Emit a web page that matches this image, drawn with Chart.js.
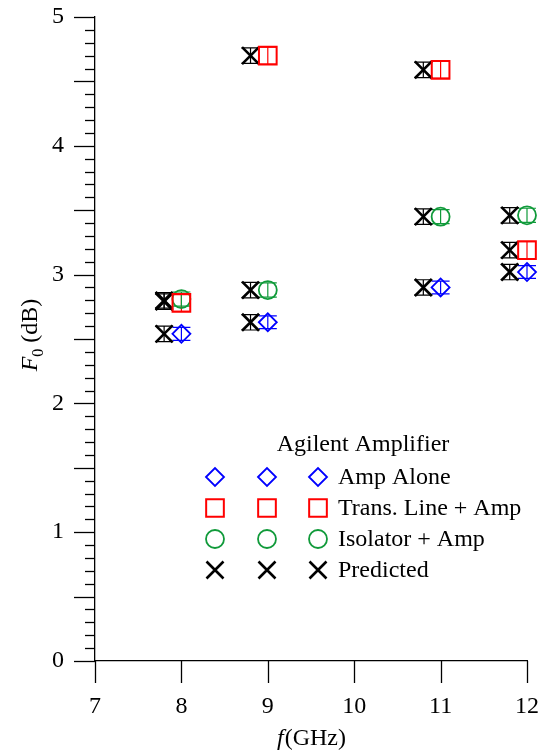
<!DOCTYPE html>
<html>
<head>
<meta charset="utf-8">
<script src="https://cdn.jsdelivr.net/npm/chart.js@4.4.1/dist/chart.umd.min.js"></script>
<style>
html,body{margin:0;padding:0;background:#fff}
#wrap{width:550px;height:754px}
</style>
</head>
<body>
<div id="wrap"><canvas id="chart"></canvas></div>
<script>
// ---------- data ----------
const freqs = [8, 9, 11, 12];
const predFreqs = [7.8, 8.8, 10.8, 11.8];

const ampAlone  = [2.54, 2.63, 2.90, 3.02];
const transLine = [2.78, 4.70, 4.59, 3.19];
const isolator  = [2.81, 2.88, 3.45, 3.46];

const predAmp   = [2.54, 2.63, 2.90, 3.02];
const predTrans = [2.79, 4.70, 4.59, 3.19];
const predIso   = [2.80, 2.88, 3.45, 3.46];

const errAmp   = [0.05, 0.05, 0.05, 0.05];
const errTrans = [0.065, 0.065, 0.065, 0.065];
const errIso   = [0.055, 0.055, 0.055, 0.055];
const errPred  = [0.06, 0.06, 0.06, 0.06];

const xTicks = [7, 8, 9, 10, 11, 12];
const yTicks = [0, 1, 2, 3, 4, 5];

const legendTitle = "Agilent Amplifier";
const legendLabels = ["Amp Alone", "Trans. Line + Amp", "Isolator + Amp", "Predicted"];

const BLUE = "#0000ff", RED = "#ff0000", GREEN = "#109a3a", BLACK = "#000000";
const FONT = "Liberation Serif";

function pts(xs, ys, errs){
  return xs.map((x,i)=>({x:x, y:ys[i], e:errs[i]}));
}

const styles = [
  {pointStyle:"rectRot", pointRadius:9, color:BLUE, lw:1.8},
  {pointStyle:"rect", pointRadius:12.5, color:RED, lw:2},
  {pointStyle:"circle", pointRadius:9, color:GREEN, lw:1.8},
  {pointStyle:"crossRot", pointRadius:12, color:BLACK, lw:2.6}
];

function ds(data, st){
  return {
    data:data,
    showLine:false,
    clip:false,
    pointStyle:st.pointStyle,
    pointRadius:st.pointRadius,
    pointHoverRadius:st.pointRadius,
    borderColor:st.color,
    backgroundColor:"rgba(0,0,0,0)",
    pointBorderWidth:st.lw,
    borderWidth:st.lw
  };
}

const datasets = [
  ds(pts(freqs, ampAlone, errAmp), styles[0]),
  ds(pts(freqs, transLine, errTrans), styles[1]),
  ds(pts(freqs, isolator, errIso), styles[2]),
  ds(pts(predFreqs, predAmp, errPred), styles[3]),
  ds(pts(predFreqs, predTrans, errPred), styles[3]),
  ds(pts(predFreqs, predIso, errPred), styles[3])
];

// ---------- error bars ----------
const errorBars = {
  id:"errorBars",
  beforeDatasetsDraw(chart){
    const {ctx, scales:{x, y}} = chart;
    ctx.save();
    chart.data.datasets.forEach(d=>{
      ctx.strokeStyle = d.borderColor;
      ctx.lineWidth = 1.2;
      d.data.forEach(p=>{
        let px = x.getPixelForValue(p.x);
        let t = y.getPixelForValue(p.y + p.e);
        let b = y.getPixelForValue(p.y - p.e);
        ctx.beginPath();
        ctx.moveTo(px, t); ctx.lineTo(px, b);
        ctx.moveTo(px-9, t); ctx.lineTo(px+9, t);
        ctx.moveTo(px-9, b); ctx.lineTo(px+9, b);
        ctx.stroke();
      });
    });
    ctx.restore();
  }
};

// ---------- tick marks, axis titles, legend ----------
const decor = {
  id:"decor",
  afterDraw(chart){
    const {ctx, chartArea:ca, scales:{x, y}} = chart;
    ctx.save();
    ctx.strokeStyle = BLACK;
    ctx.lineWidth = 1.3;

    // y ticks every 0.1, longer at 0.5
    for(let i=0;i<=50;i++){
      let py = Math.round(y.getPixelForValue(i/10)) + 0.5;
      let len = (i%5===0) ? 21 : 10;
      ctx.beginPath();
      ctx.moveTo(ca.left-len, py); ctx.lineTo(ca.left, py);
      ctx.stroke();
    }
    // x ticks
    xTicks.forEach(v=>{
      let px = Math.round(x.getPixelForValue(v)) + 0.5;
      ctx.beginPath();
      ctx.moveTo(px, ca.bottom); ctx.lineTo(px, ca.bottom+22);
      ctx.stroke();
    });

    ctx.fillStyle = BLACK;
    ctx.textBaseline = "alphabetic";

    // x title: f(GHz)
    ctx.font = "italic 24px '" + FONT + "'";
    let wf = ctx.measureText("f").width;
    ctx.font = "24px '" + FONT + "'";
    let wr = ctx.measureText("(GHz)").width;
    let cx = (ca.left + ca.right)/2;
    let sx = cx - (wf+wr)/2;
    ctx.font = "italic 24px '" + FONT + "'";
    ctx.textAlign = "left";
    ctx.fillText("f", sx, 745);
    ctx.font = "24px '" + FONT + "'";
    ctx.fillText("(GHz)", sx+wf+1, 745);

    // y title: F0 (dB)
    ctx.save();
    ctx.translate(37, 335);
    ctx.rotate(-Math.PI/2);
    ctx.font = "italic 24px '" + FONT + "'";
    let wF = ctx.measureText("F").width;
    ctx.font = "16px '" + FONT + "'";
    let w0 = ctx.measureText("0").width;
    ctx.font = "24px '" + FONT + "'";
    let wd = ctx.measureText(" (dB)").width;
    let total = wF + w0 + wd;
    let s = -total/2;
    ctx.font = "italic 24px '" + FONT + "'";
    ctx.fillText("F", s, 0);
    ctx.font = "16px '" + FONT + "'";
    ctx.fillText("0", s+wF, 6);
    ctx.font = "24px '" + FONT + "'";
    ctx.fillText(" (dB)", s+wF+w0, 0);
    ctx.restore();

    // legend
    ctx.font = "24px '" + FONT + "'";
    ctx.textAlign = "center";
    ctx.textBaseline = "middle";
    ctx.fillStyle = BLACK;
    ctx.fillText(legendTitle, 363, 445);
    const rowsY = [477, 508, 539, 570];
    const colsX = [215, 267, 318];
    ctx.textAlign = "left";
    styles.forEach((st, i)=>{
      ctx.strokeStyle = st.color;
      ctx.fillStyle = "rgba(0,0,0,0)";
      ctx.lineWidth = st.lw;
      colsX.forEach(mx=>{
        Chart.helpers.drawPoint(ctx, {pointStyle:st.pointStyle, radius:st.pointRadius, rotation:0, borderWidth:st.lw}, mx, rowsY[i]);
      });
      ctx.fillStyle = BLACK;
      ctx.fillText(legendLabels[i], 338, rowsY[i]+1);
    });
    ctx.restore();
  }
};

new Chart(document.getElementById("chart"), {
  type:"scatter",
  data:{datasets:datasets},
  options:{
    responsive:true,
    maintainAspectRatio:false,
    animation:false,
    devicePixelRatio:1,
    layout:{padding:{left:0, top:17, right:23, bottom:0}},
    plugins:{legend:{display:false}, tooltip:{enabled:false}},
    scales:{
      x:{
        type:"linear", min:7, max:12,
        afterFit(s){ s.height = 93; s.paddingLeft = 0; s.paddingRight = 0; },
        afterBuildTicks(s){ s.ticks = xTicks.map(v=>({value:v})); },
        ticks:{color:BLACK, padding:31, font:{family:FONT, size:24}, maxRotation:0},
        grid:{display:false, drawTicks:false},
        border:{display:true, color:BLACK, width:1.3}
      },
      y:{
        type:"linear", min:0, max:5,
        afterFit(s){ s.width = 95; s.paddingTop = 0; s.paddingBottom = 0; },
        afterBuildTicks(s){ s.ticks = yTicks.map(v=>({value:v})); },
        ticks:{color:BLACK, padding:31, font:{family:FONT, size:24}},
        grid:{display:false, drawTicks:false},
        border:{display:true, color:BLACK, width:1.3}
      }
    }
  },
  plugins:[errorBars, decor]
});
</script>
</body>
</html>
